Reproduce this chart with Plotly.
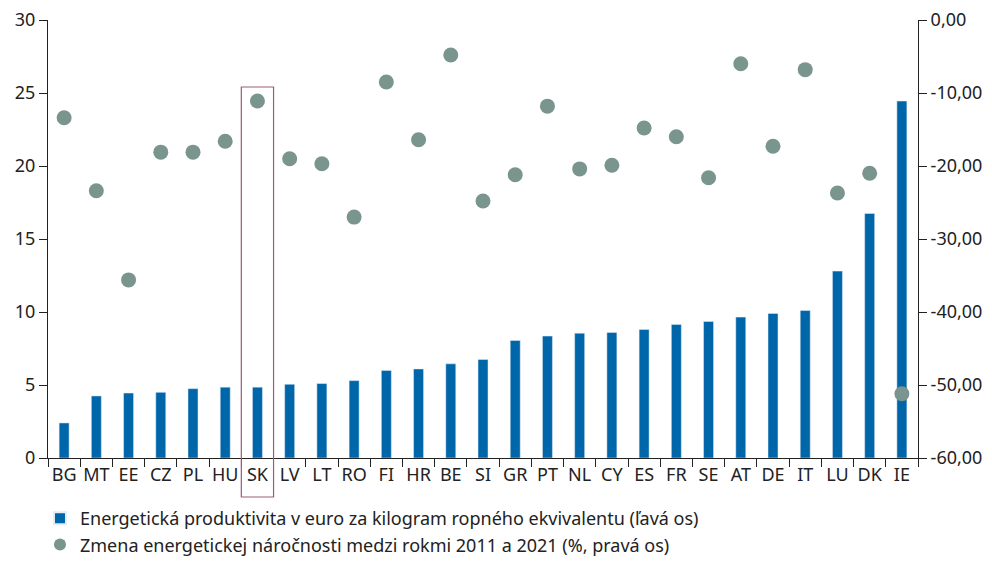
import plotly.graph_objects as go

countries = ["BG", "MT", "EE", "CZ", "PL", "HU", "SK", "LV", "LT", "RO", "FI", "HR", "BE", "SI",
             "GR", "PT", "NL", "CY", "ES", "FR", "SE", "AT", "DE", "IT", "LU", "DK", "IE"]
productivity = [2.4, 4.25, 4.45, 4.5, 4.75, 4.85, 4.85, 5.05, 5.1, 5.3, 6.0, 6.1, 6.45, 6.75,
                8.05, 8.35, 8.55, 8.6, 8.8, 9.15, 9.35, 9.65, 9.9, 10.1, 12.8, 16.75, 24.45]
intensity_change = [-13.4, -23.4, -35.6, -18.1, -18.1, -16.6, -11.1, -19.0, -19.7, -27.0, -8.5,
                    -16.4, -4.8, -24.8, -21.2, -11.8, -20.4, -19.9, -14.8, -16.0, -21.6, -6.0,
                    -17.3, -6.8, -23.7, -21.0, -51.2]
left_ticks = [0, 5, 10, 15, 20, 25, 30]
right_ticks = [0, -10, -20, -30, -40, -50, -60]
right_ticktext = [f"{v:.2f}".replace(".", ",") for v in right_ticks]
name_bar = "Energetická produktivita v euro za kilogram ropného ekvivalentu (ľavá os)"
name_dot = "Zmena energetickej náročnosti medzi rokmi 2011 a 2021 (%, pravá os)"
highlight = "SK"

font_family = "Noto Sans, Open Sans, sans-serif"
fig = go.Figure()
fig.add_trace(go.Bar(x=countries, y=productivity, name=name_bar, marker_color="#0066AA",
                     width=0.31, yaxis="y"))
fig.add_trace(go.Scatter(x=countries, y=intensity_change, name=name_dot, mode="markers",
                         marker=dict(color="#7A958E", size=15), yaxis="y2"))

PH = 450.0  # plot-area height in px (paper units)
hi = countries.index(highlight)
fig.add_shape(type="rect", xref="x", yref="paper", x0=hi - 0.5, x1=hi + 0.5,
              y0=-39 / PH, y1=371 / PH, line=dict(color="#9C5A78", width=1.2))

dom = [0, 1 - 12 / PH]
axis_common = dict(showgrid=False, zeroline=False, showline=True, linecolor="#222",
                   linewidth=1, ticks="outside", ticklen=8, tickcolor="#222",
                   tickfont=dict(size=18, color="#222"), automargin=False,
                   ticklabeloverflow="allow")
fig.update_layout(
    width=984, height=555,
    margin=dict(l=40, r=74, t=0, b=105),
    plot_bgcolor="white", paper_bgcolor="white",
    separators=", ",
    font=dict(family=font_family, color="#222"),
    bargap=0.69,
    xaxis=dict(**axis_common, tickson="boundaries", tickangle=0,
               range=[-0.5, len(countries) - 0.5]),
    yaxis=dict(**axis_common, range=[0, 30], tickvals=left_ticks, domain=dom),
    yaxis2=dict(**axis_common, overlaying="y", side="right", range=[-60, 0],
                tickvals=right_ticks, ticktext=right_ticktext, domain=dom),
    legend=dict(orientation="v", x=-0.0092, xanchor="left", y=-105 / PH, yanchor="bottom",
                font=dict(size=18, color="#222"), itemsizing="constant",
                tracegroupgap=0, traceorder="normal"),
    showlegend=True,
)
fig.write_html("out.html")
